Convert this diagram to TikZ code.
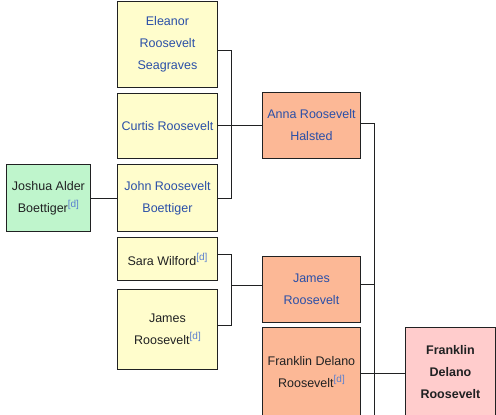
\documentclass[tikz,border=0pt]{standalone}
\usepackage{fontspec}
\setmainfont{Liberation Sans}
\definecolor{linkblue}{HTML}{2A4FA8}
\definecolor{refblue}{HTML}{5A7FD0}
\definecolor{inkblack}{HTML}{202122}
\definecolor{genone}{HTML}{FFCCCC}
\definecolor{gentwo}{HTML}{FCB896}
\definecolor{genthree}{HTML}{FFFDCC}
\definecolor{genfour}{HTML}{BFF5CC}
\newcommand{\dref}{\raisebox{5pt}{\fontsize{10}{10}\selectfont\color{refblue}[d]}}

\begin{document}
\begin{tikzpicture}[x=1pt,y=-1pt,
  box/.style={draw=inkblack,line width=0.9pt,anchor=north west,inner sep=0pt,
    align=center,text=inkblack,font=\fontsize{12.5}{22}\selectfont},
  link/.style={text=linkblue},
  conn/.style={draw=inkblack,line width=0.9pt}]
\useasboundingbox (0,0) rectangle (496,415);
\clip (0,0) rectangle (496,415);

% great-grandparents column
\node[box,fill=genthree,link,minimum width=100pt,minimum height=86pt] (eleanor) at (117,1) {Eleanor\\Roosevelt\\Seagraves};
\node[box,fill=genthree,link,minimum width=100pt,minimum height=65pt] (curtis) at (117,93) {Curtis Roosevelt};
\node[box,fill=genthree,link,minimum width=100pt,minimum height=67pt] (johnb) at (117,164) {John Roosevelt\\Boettiger};
\node[box,fill=genfour,minimum width=84pt,minimum height=67pt] (joshua) at (6,164) {Joshua Alder\\Boettiger\dref};
\node[box,fill=genthree,minimum width=100pt,minimum height=43pt] (sara) at (117,237) {Sara Wilford\dref};
\node[box,fill=genthree,minimum width=100pt,minimum height=80pt] (jamessr) at (117,289) {James\\Roosevelt\dref};

% parents column
\node[box,fill=gentwo,link,minimum width=98pt,minimum height=66pt] (anna) at (262,92) {Anna Roosevelt\\Halsted};
\node[box,fill=gentwo,link,minimum width=98pt,minimum height=66pt] (jamesr) at (262,256) {James\\Roosevelt};
\node[box,fill=gentwo,minimum width=98pt,minimum height=89pt] (fdrsr) at (262,327) {Franklin Delano\\Roosevelt\dref};

% subject
\node[box,fill=genone,font=\fontsize{12.5}{22}\selectfont\bfseries,minimum width=90pt,minimum height=89pt] (fdr) at (405,327) {Franklin\\Delano\\Roosevelt};

\coordinate (forkA) at ([xshift=14pt]johnb.east);
\coordinate (forkB) at ([xshift=14pt]jamessr.east);
\coordinate (spine) at (374,420);

% connectors
\draw[conn] ([yshift=-6pt]eleanor.east) -| (forkA) -- (johnb.east);
\draw[conn] (anna.west -| curtis.east) -- (anna.west);
\draw[conn] (joshua) -- (johnb);
\draw[conn] ([yshift=4.5pt]sara.east) -| ([yshift=4pt]forkB) -- ([yshift=4pt]jamessr.east);
\draw[conn] ([yshift=4pt]jamesr.west -| forkB) -- ([yshift=4pt]jamesr.west);
\draw[conn] ([yshift=2pt]anna.east) -| (spine);
\draw[conn] ([yshift=5pt]jamesr.east) -- ([yshift=5pt]jamesr.east -| spine);
\draw[conn] ([yshift=-1.5pt]fdrsr.east) -- ([yshift=-1.5pt]fdr.west);
\end{tikzpicture}
\end{document}
